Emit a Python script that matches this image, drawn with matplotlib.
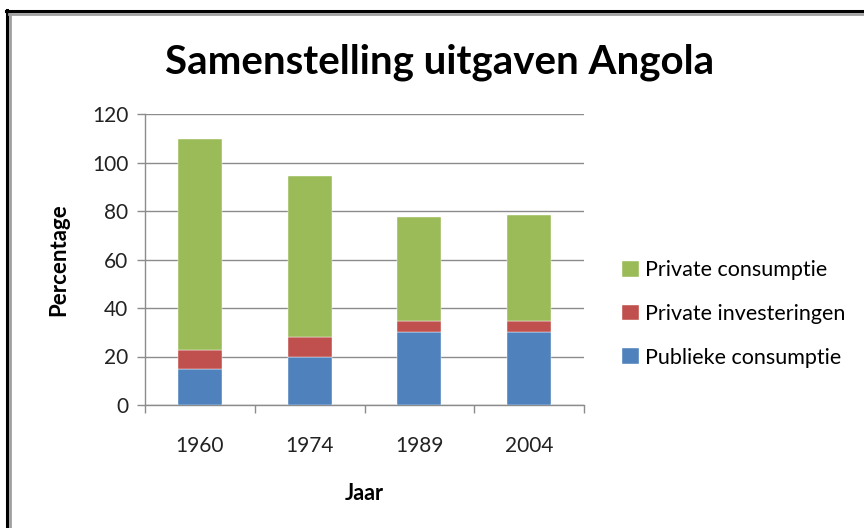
import matplotlib
matplotlib.use("Agg")
import matplotlib.pyplot as plt
from matplotlib.lines import Line2D
import numpy as np

years = ["1960", "1974", "1989", "2004"]
publieke_consumptie = [15, 20, 30, 30]
private_investeringen = [7.7, 8, 4.5, 4.5]
private_consumptie = [86.8, 66.5, 43, 44]

series_names = ["Publieke consumptie", "Private investeringen", "Private consumptie"]
colors = ["#4F81BD", "#C0504D", "#9BBB59"]
yticks = [0, 20, 40, 60, 80, 100, 120]

plt.rcParams['font.family'] = ['Lato', 'DejaVu Sans']

fig = plt.figure(figsize=(8.64, 5.28), dpi=100)
ax = fig.add_axes([145/864, 1-405/528, (584-145)/864, (405-114)/528])

x = np.arange(len(years))
bottom = np.zeros(len(years))
handles = []
for vals, name, col in zip([publieke_consumptie, private_investeringen, private_consumptie], series_names, colors):
    b = ax.bar(x, vals, width=0.4, bottom=bottom, color=col, label=name, zorder=3,
               edgecolor='white', linewidth=0.3)
    handles.append(b)
    bottom += np.array(vals)

ax.set_xlim(-0.5, 3.5)
ax.set_ylim(0, 120)
ax.set_yticks(yticks)
ax.set_yticklabels([str(t) for t in yticks], fontsize=15, color='#222222')
ax.yaxis.grid(True, color='#8c8c8c', linewidth=1.0, zorder=0)
ax.set_axisbelow(True)

ax.set_xticks(x)
ax.set_xticklabels(years, fontsize=15, color='#222222')
ax.tick_params(axis='x', which='major', length=0, pad=22)
ax.set_xticks(np.arange(-0.5, 4.0, 1.0), minor=True)
ax.tick_params(axis='x', which='minor', length=6, color='#8c8c8c', width=1)
ax.tick_params(axis='y', length=6, color='#8c8c8c', width=1, pad=6)

for s in ['top', 'right']:
    ax.spines[s].set_visible(False)
for s in ['left', 'bottom']:
    ax.spines[s].set_color('#8c8c8c')
    ax.spines[s].set_linewidth(1.0)

ax.set_ylabel("Percentage", fontsize=16, fontweight='bold', labelpad=16)
ax.set_xlabel("Jaar", fontsize=15.5, fontweight='bold', labelpad=20)

fig.text(440/864, 1-62/528, "Samenstelling uitgaven Angola", fontsize=29, fontweight='bold',
         ha='center', va='center')

leg = fig.legend(handles=handles[::-1], labels=series_names[::-1], loc='upper left',
                 bbox_to_anchor=(603/864, 1-241/528), frameon=False, fontsize=15.5,
                 handlelength=0.75, handleheight=0.75, handletextpad=0.3, labelspacing=1.1)

# frame lines (top and left only)
fig.add_artist(Line2D([7/864, 7/864], [0, 1-10/528], transform=fig.transFigure, color='black', linewidth=2.2))
fig.add_artist(Line2D([10/864, 10/864], [0, 1-13/528], transform=fig.transFigure, color='#a0a0a0', linewidth=2))
fig.add_artist(Line2D([6/864, 1], [1-11/528, 1-11/528], transform=fig.transFigure, color='black', linewidth=2.2))
fig.add_artist(Line2D([9/864, 1], [1-14/528, 1-14/528], transform=fig.transFigure, color='#a0a0a0', linewidth=2))

fig.savefig("out.png", dpi=100, facecolor='white')
